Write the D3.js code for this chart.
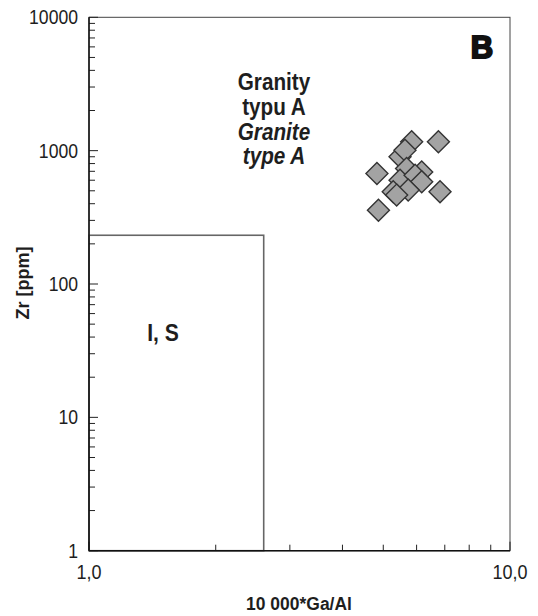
<!DOCTYPE html>
<html><head><meta charset="utf-8">
<script src="https://cdn.jsdelivr.net/npm/d3@7"></script>
<style>
html,body{margin:0;padding:0;background:#fff;}
text{font-family:"Liberation Sans",Arial,sans-serif;}
</style></head>
<body><svg id="c" width="538" height="616"></svg>
<script>
// Data (10000*Ga/Al, Zr ppm)
const gaAl = [5.84, 6.76, 5.48, 5.63, 4.83, 5.68, 6.17, 5.48, 5.95, 6.17, 5.28, 5.73, 5.38, 6.82, 4.87];
const zr   = [1164, 1164, 899, 1009, 675, 736, 693, 601, 655, 584, 491, 506, 464, 491, 358];
const xTickLabels = ["1,0", "10,0"];
const yTickLabels = ["1", "10", "100", "1000", "10000"];
const fieldIS = {gaAl: 2.6, zr: 232};

const svg = d3.select("#c");
const L = 89, R = 510, T = 17.3, B = 550.7;
const x = d3.scaleLog().domain([1, 10]).range([L, R]);
const y = d3.scaleLog().domain([1, 10000]).range([B, T]);

// condensed text helper
function ctext(tx, ty, str, opt) {
  const o = Object.assign({size: 20, sx: 0.88, anchor: "middle", weight: "normal", style: "normal", rot: 0}, opt || {});
  return svg.append("text")
    .attr("transform", `translate(${tx},${ty}) rotate(${o.rot}) scale(${o.sx},1)`)
    .attr("text-anchor", o.anchor).attr("font-size", o.size)
    .attr("font-weight", o.weight).attr("font-style", o.style)
    .attr("fill", "#1e1e1e").text(str);
}

// frame
svg.append("rect").attr("x", L).attr("y", T).attr("width", R - L).attr("height", B - T)
  .attr("fill", "none").attr("stroke", "#444").attr("stroke-width", 1);

// I,S field box
svg.append("rect").attr("x", x(1)).attr("y", y(fieldIS.zr))
  .attr("width", x(fieldIS.gaAl) - x(1)).attr("height", y(1) - y(fieldIS.zr))
  .attr("fill", "none").attr("stroke", "#666").attr("stroke-width", 1.6);

// x ticks
const xt = d3.range(1, 11);
svg.selectAll(".xt").data(xt).enter().append("line")
  .attr("x1", d => x(d)).attr("x2", d => x(d))
  .attr("y1", B).attr("y2", d => (d === 1 || d === 10) ? B - 9 : B - 6)
  .attr("stroke", "#222").attr("stroke-width", 1);
// y ticks
const yt = [];
for (let e = 0; e < 4; e++) for (let m = 1; m < 10; m++) yt.push(m * Math.pow(10, e));
yt.push(10000);
svg.selectAll(".yt").data(yt).enter().append("line")
  .attr("y1", d => y(d)).attr("y2", d => y(d))
  .attr("x1", L).attr("x2", d => String(d)[0] === "1" && /^10*$/.test(String(d)) ? L + 9 : L + 6)
  .attr("stroke", "#222").attr("stroke-width", 1);

// axis lines (bold)
svg.append("line").attr("x1", L).attr("x2", L).attr("y1", T).attr("y2", B).attr("stroke", "#111").attr("stroke-width", 1.5);
svg.append("line").attr("x1", L).attr("x2", R).attr("y1", B).attr("y2", B).attr("stroke", "#111").attr("stroke-width", 1.5);

// tick labels
[1, 10].forEach((d, i) => ctext(x(d), 579, xTickLabels[i], {size: 20, sx: 0.9}));
[1, 10, 100, 1000, 10000].forEach((d, i) => ctext(78, y(d) + 7, yTickLabels[i], {size: 20, sx: 0.88, anchor: "end"}));

// axis titles
ctext(299, 610, "10 000*Ga/Al", {size: 19, sx: 0.92, weight: "bold"});
ctext(29, 283, "Zr [ppm]", {size: 19, sx: 0.95, weight: "bold", rot: -90});

// field labels
const lab = [["Granity", "normal", 90], ["typu A", "normal", 115], ["Granite", "italic", 140], ["type A", "italic", 164]];
lab.forEach(l => ctext(274, l[2], l[0], {size: 23, sx: 0.9, weight: "bold", style: l[1]}));
ctext(163, 341, "I, S", {size: 23, sx: 0.92, weight: "bold"});
svg.append("text").attr("x", 482).attr("y", 58).attr("text-anchor", "middle")
  .attr("font-size", 31).attr("font-weight", "bold").attr("fill", "#111")
  .attr("stroke", "#111").attr("stroke-width", 2).text("B");

// points
const pts = gaAl.map((g, i) => ({g, z: zr[i]}));
const s = 11;
svg.selectAll(".pt").data(pts).enter().append("path")
  .attr("d", d => { const cx = x(d.g), cy = y(d.z); return `M${cx},${cy - s}L${cx + s},${cy}L${cx},${cy + s}L${cx - s},${cy}Z`; })
  .attr("fill", "#a3a3a3").attr("stroke", "#333").attr("stroke-width", 1.4);
</script></body></html>
